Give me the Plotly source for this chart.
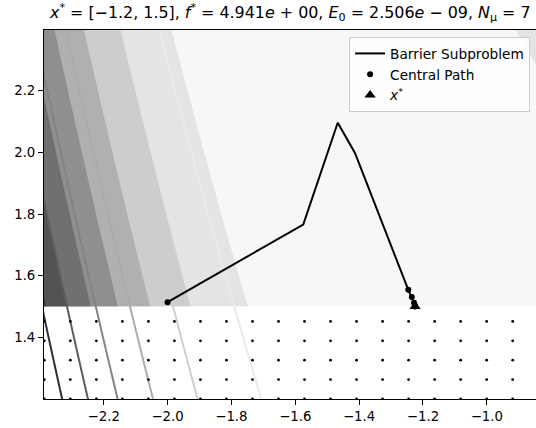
import numpy as np
import plotly.graph_objects as go

# ---- data ----
path_x = [-2.0, -1.575, -1.467, -1.413, -1.246, -1.235, -1.228, -1.2247]
path_y = [1.514, 1.766, 2.096, 1.998, 1.554, 1.531, 1.512, 1.5]
central_x = [-2.0, -1.246, -1.235, -1.228, -1.2255, -1.2249, -1.2247]
central_y = [1.514, 1.554, 1.531, 1.512, 1.504, 1.501, 1.5]
xstar = [-1.2247]
ystar = [1.5]

fill_levels = dict(start=250, end=2000, size=250)
fill_colors = ['#f7f7f7', '#e4e4e4', '#cdcdcd', '#b0b0b0', '#8f8f8f',
               '#707070', '#535353', '#353535', '#151515']
line_levels = dict(start=300, end=2100, size=300)
line_colors = ['#eaeaea', '#cfcfcf', '#ababab', '#838383', '#5c5c5c', '#2e2e2e', '#000000']

x_range = [-2.387, -0.846]
y_range = [1.2, 2.397]
y_bound = 1.5
title_html = ("<i>x</i><sup>*</sup> = [−1.2, 1.5], <i>f</i><sup>*</sup> = 4.941<i>e</i> + 00, "
              "<i>E</i><sub>0</sub> = 2.506<i>e</i> − 09, <i>N</i><sub>μ</sub> = 7")


def objective(x, y):
    return (1 - x) ** 2 + 100 * (y - x ** 2) ** 2


def scale(colors):
    n = len(colors) - 1
    return [[i / n, c] for i, c in enumerate(colors)]


gx = np.linspace(-2.5, -0.7, 400)
gy_fill = np.linspace(y_bound, 2.5, 300)
gy_all = np.linspace(1.1, 2.5, 400)
Xf, Yf = np.meshgrid(gx, gy_fill)
Xa, Ya = np.meshgrid(gx, gy_all)

FONT = "DejaVu Sans"
fig = go.Figure()

fig.add_trace(go.Contour(
    x=gx, y=gy_fill, z=objective(Xf, Yf),
    contours=dict(coloring='fill', showlines=False, **fill_levels),
    colorscale=scale(fill_colors), showscale=False, line=dict(width=0),
    hoverinfo='skip', showlegend=False))

fig.add_trace(go.Contour(
    x=gx, y=gy_all, z=objective(Xa, Ya),
    contours=dict(coloring='lines', **line_levels),
    colorscale=scale(line_colors), showscale=False, line=dict(width=2),
    hoverinfo='skip', showlegend=False))

# dot hatch of the infeasible region
hx = np.arange(-2.386, x_range[1] + 0.01, 0.0815)
hy = np.arange(1.2, y_bound - 0.03, 0.0629)
HX, HY = np.meshgrid(hx, hy)
fig.add_trace(go.Scatter(
    x=HX.ravel(), y=HY.ravel(), mode='markers',
    marker=dict(size=2.8, color='black'), hoverinfo='skip', showlegend=False))

fig.add_trace(go.Scatter(
    x=path_x, y=path_y, mode='lines', name='Barrier Subproblem',
    line=dict(color='black', width=2)))
fig.add_trace(go.Scatter(
    x=central_x, y=central_y, mode='markers', name='Central Path',
    marker=dict(size=6, color='black')))
fig.add_trace(go.Scatter(
    x=xstar, y=ystar, mode='markers', name='<i>x</i><sup>*</sup>',
    marker=dict(size=10, color='black', symbol='triangle-up')))

axis_common = dict(showline=True, mirror=True, linecolor='black', linewidth=1,
                   ticks='outside', ticklen=5, tickwidth=1, tickcolor='black',
                   showgrid=False, zeroline=False,
                   tickfont=dict(family=FONT, size=13.3, color='black'))

fig.update_layout(
    width=536, height=428,
    margin=dict(l=44, r=0, t=30, b=29),
    paper_bgcolor='white', plot_bgcolor='white',
    font=dict(family=FONT, size=13.3, color='black'),
    xaxis=dict(range=x_range, tickvals=[-2.2, -2.0, -1.8, -1.6, -1.4, -1.2, -1.0],
               ticktext=['−2.2', '−2.0', '−1.8', '−1.6', '−1.4', '−1.2', '−1.0'],
               **axis_common),
    yaxis=dict(range=y_range, tickvals=[1.4, 1.6, 1.8, 2.0, 2.2],
               ticktext=['1.4', '1.6', '1.8', '2.0', '2.2'], **axis_common),
    legend=dict(x=0.988, y=0.981, xanchor='right', yanchor='top',
                bgcolor='rgba(255,255,255,0.85)', bordercolor='#cccccc', borderwidth=1,
                font=dict(family=FONT, size=13.7, color='black'),
                tracegroupgap=0, itemwidth=30),
    annotations=[dict(text=title_html, xref='paper', yref='paper', x=0.5, y=1,
                      xanchor='center', yanchor='bottom', yshift=4, showarrow=False,
                      font=dict(family=FONT, size=15.9, color='black'))],
)

fig.write_html("out.html")
